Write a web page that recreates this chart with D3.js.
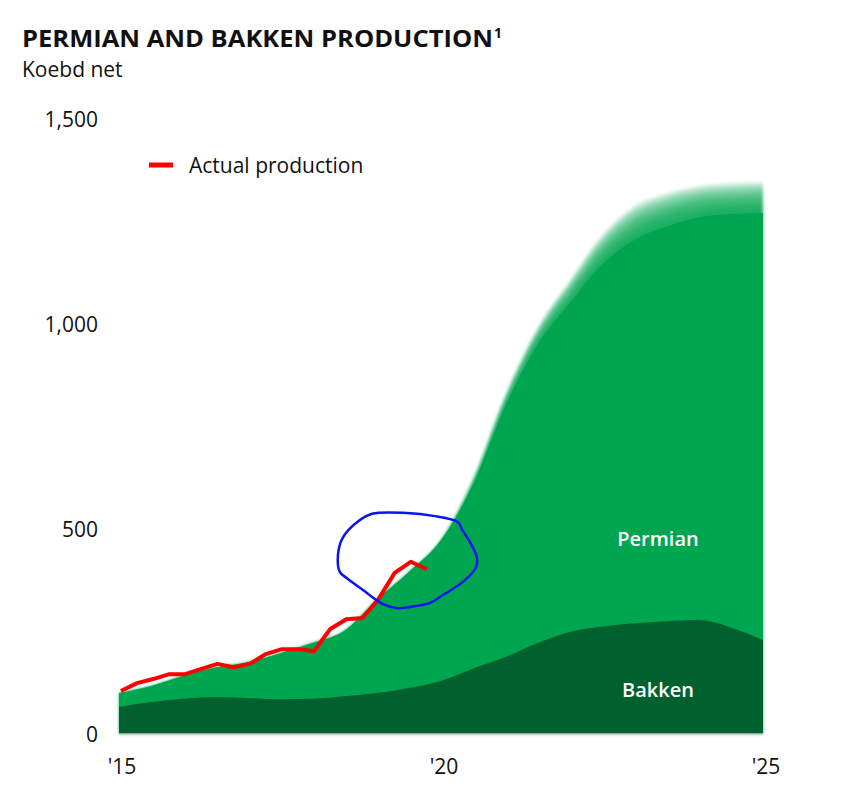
<!DOCTYPE html>
<html>
<head>
<meta charset="utf-8">
<script src="https://cdn.jsdelivr.net/npm/d3@7"></script>
<style>
  body { margin: 0; background: #fff; }
  svg { font-family: "Open Sans", "Noto Sans", sans-serif; }
</style>
</head>
<body>
<svg id="chart" width="860" height="810"></svg>
<script>
// half-year grid for the stacked outlook
const years = [2015, 2015.5, 2016, 2016.5, 2017, 2017.5, 2018, 2018.5, 2019, 2019.5,
  2020, 2020.5, 2021, 2021.5, 2022, 2022.5, 2023, 2023.5, 2024, 2024.5, 2025];
const bakken = [66, 78, 86, 90, 88, 85, 86, 92, 100, 112,
  130, 160, 188, 222, 249, 262, 270, 275, 278, 260, 229];
const permian = [34, 39, 56, 72, 87, 112, 136, 160, 227, 283,
  343, 450, 612, 728, 802, 883, 935, 963, 982, 1008, 1042];
// faded upside band sitting on top of Permian
const upside = [0, 0, 0, 0, 0, 0, 0, 0, 0, 0,
  0, 15, 30, 42, 56, 72, 82, 80, 76, 75, 75];

// actual production, quarterly 2015 Q1 .. 2019 Q4
const actualQuarters = ['2015Q1', '2015Q2', '2015Q3', '2015Q4', '2016Q1', '2016Q2', '2016Q3', '2016Q4',
  '2017Q1', '2017Q2', '2017Q3', '2017Q4', '2018Q1', '2018Q2', '2018Q3', '2018Q4',
  '2019Q1', '2019Q2', '2019Q3', '2019Q4'];
const actual = [105, 124, 134, 146, 146, 159, 171, 163, 171, 195,
  207, 207, 202, 256, 280, 283, 329, 393, 420, 402];

// hand-drawn highlight loop (year, koebd)
const loopYears = [2018.93, 2019.47, 2019.88, 2020.26, 2020.33, 2020.45, 2020.56, 2020.54, 2020.34, 2020.03,
  2019.83, 2019.52, 2019.33, 2019.10, 2018.79, 2018.54, 2018.43, 2018.40, 2018.48, 2018.70];
const loopValues = [537, 539, 532, 517, 498, 468, 429, 405, 371, 339,
  320, 310, 307, 317, 351, 380, 395, 437, 480, 517];

const yTicks = [0, 500, 1000, 1500];
const xTicks = [2015, 2020, 2025];
const xTickLabels = ["'15", "'20", "'25"];

const C = { permian: '#00a64f', bakken: '#00612e', actual: '#ff0000', loop: '#0a14f0', text: '#111' };

const svg = d3.select('#chart');
const x = d3.scaleLinear().domain([2015, 2025]).range([119, 763]);
const y = d3.scaleLinear().domain([0, 1500]).range([734, 119]);

const rows = years.map((yr, i) => ({ yr, b: bakken[i], p: permian[i], u: upside[i] }));

// title block
svg.append('text').attr('x', 22).attr('y', 47)
  .attr('font-size', 24).attr('font-weight', 700).attr('fill', C.text)
  .attr('textLength', 471).attr('lengthAdjust', 'spacingAndGlyphs')
  .text('PERMIAN AND BAKKEN PRODUCTION');
svg.append('text').attr('x', 494).attr('y', 38)
  .attr('font-size', 14).attr('font-weight', 700).attr('fill', C.text).text('1');
svg.append('text').attr('x', 22).attr('y', 77).attr('font-size', 21)
  .attr('fill', C.text).text('Koebd net');

// upside fade: stack of thin translucent layers
svg.append('defs').append('filter').attr('id', 'soft')
  .append('feGaussianBlur').attr('stdDeviation', 1.5);
const fade = svg.append('g').attr('filter', 'url(#soft)');
const N = 10;
d3.range(1, N + 1).forEach(k => {
  fade.append('path')
    .datum(rows)
    .attr('fill', C.permian)
    .attr('fill-opacity', 0.2)
    .attr('d', d3.area()
      .curve(d3.curveMonotoneX)
      .x(d => x(d.yr))
      .y0(y(0))
      .y1(d => y(d.b + d.p + d.u * k / N)));
});

// stacked areas
svg.append('path').datum(rows)
  .attr('fill', C.permian)
  .attr('d', d3.area().curve(d3.curveMonotoneX)
    .x(d => x(d.yr)).y0(y(0)).y1(d => y(d.b + d.p)));
svg.append('path').datum(rows)
  .attr('fill', C.bakken)
  .attr('d', d3.area().curve(d3.curveMonotoneX)
    .x(d => x(d.yr)).y0(y(0)).y1(d => y(d.b)));

// baseline
svg.append('line').attr('x1', x(2015)).attr('x2', x(2025))
  .attr('y1', y(0)).attr('y2', y(0))
  .attr('stroke', '#c8c8c8').attr('stroke-width', 1.5);

// area labels
svg.append('text').attr('x', 658).attr('y', 546).attr('text-anchor', 'middle')
  .attr('font-size', 20).attr('font-weight', 600).attr('fill', '#fff').text('Permian');
svg.append('text').attr('x', 658).attr('y', 697).attr('text-anchor', 'middle')
  .attr('font-size', 20).attr('font-weight', 600).attr('fill', '#fff').text('Bakken');

// actual production line
const qYear = s => +s.slice(0, 4) + (+s.slice(5) - 1) / 4 + 0.03;
svg.append('path')
  .datum(actual.map((v, i) => ({ yr: qYear(actualQuarters[i]), v })))
  .attr('fill', 'none').attr('stroke', C.actual)
  .attr('stroke-width', 4).attr('stroke-linejoin', 'round')
  .attr('d', d3.line().x(d => x(d.yr)).y(d => y(d.v)));

// highlight loop
svg.append('path')
  .datum(loopValues.map((v, i) => ({ yr: loopYears[i], v })))
  .attr('fill', 'none').attr('stroke', C.loop).attr('stroke-width', 2.5)
  .attr('d', d3.line().curve(d3.curveCatmullRomClosed)
    .x(d => x(d.yr)).y(d => y(d.v)));

// y axis labels
svg.append('g').selectAll('text').data(yTicks).join('text')
  .attr('x', 98).attr('y', d => y(d) + 8)
  .attr('text-anchor', 'end').attr('font-size', 21).attr('fill', C.text)
  .text(d => d3.format(',')(d));

// x axis labels
svg.append('g').selectAll('text').data(xTicks).join('text')
  .attr('x', d => x(d) + 3).attr('y', 774)
  .attr('text-anchor', 'middle').attr('font-size', 21).attr('fill', C.text)
  .text((d, i) => xTickLabels[i]);

// legend
svg.append('line').attr('x1', 149).attr('x2', 173).attr('y1', 165).attr('y2', 165)
  .attr('stroke', C.actual).attr('stroke-width', 5);
svg.append('text').attr('x', 189).attr('y', 173).attr('font-size', 21)
  .attr('fill', C.text).text('Actual production');
</script>
</body>
</html>
